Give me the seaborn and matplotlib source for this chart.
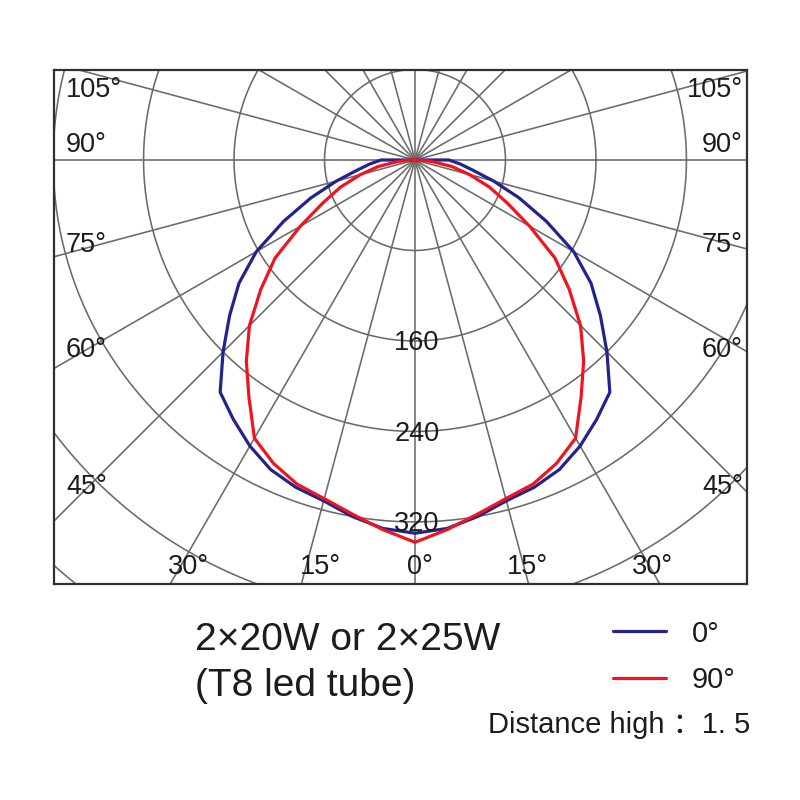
import numpy as np
import pandas as pd
import matplotlib
matplotlib.use("Agg")
import matplotlib.pyplot as plt
import seaborn as sns

# luminous intensity (cd), degrees from nadir
angles = [0, 5, 10, 15, 20, 25, 30, 35, 40, 45, 50, 55, 60, 65, 70, 75, 80, 85, 90]
c0_values = [330, 327, 320, 312, 308, 302, 292, 280, 268, 240, 214, 190, 162, 128, 98, 72, 52, 40, 30]
c90_values = [338, 328, 318, 310, 305, 296, 284, 256, 232, 207, 178, 151, 117, 90, 70, 50, 33, 15, 4]
plane_labels = ["0°", "90°"]
plane_colors = ["#23238f", "#f0141e"]

ring_values = [80, 160, 240, 320, 400, 480, 560]
ring_labels = [160, 240, 320]
spoke_angles = list(range(0, 180, 15))

left_labels = ["105°", "90°", "75°", "60°", "45°"]
bottom_labels = ["30°", "15°", "0°", "15°", "30°"]

title_lines = ["2×20W or 2×25W", "(T8 led tube)"]
distance_text = "Distance high ：1. 5"

sns.set_style("white")
plt.rcParams["font.family"] = ["Liberation Sans", "Noto Sans CJK SC", "DejaVu Sans"]

SCALE = 1.131  # px per cd
CX, CY = 415, 160  # pole in pixels


def px(x, y):
    return (x - CX) / SCALE, (CY - y) / SCALE


# build the curve table (mirror each half so the curve is closed at the pole)
rows = []
for label, vals in zip(plane_labels, [c0_values, c90_values]):
    th = [-a for a in angles[::-1]] + angles[1:]
    rr = vals[::-1] + vals[1:]
    th = [-95] + th + [95]
    rr = [0] + rr + [0]
    for i, (t, r) in enumerate(zip(th, rr)):
        t = np.radians(t)
        rows.append({"plane": label, "order": i, "x": r * np.sin(t), "y": -r * np.cos(t)})
df = pd.DataFrame(rows)

fig = plt.figure(figsize=(8, 8), dpi=100)
ax = fig.add_axes([54 / 800, 1 - 584 / 800, 693 / 800, 514 / 800])
x0, y1 = px(54, 70)
x1, y0 = px(747, 584)
ax.set_xlim(x0, x1)
ax.set_ylim(y0, y1)

grid_kw = dict(color="#6a6a6a", lw=1.15, zorder=1)
t = np.linspace(0, 2 * np.pi, 400)
for r in ring_values:
    ax.plot(r * np.cos(t), r * np.sin(t), **grid_kw)
for a in spoke_angles:
    a = np.radians(a)
    ax.plot([-800 * np.sin(a), 800 * np.sin(a)], [-800 * np.cos(a), 800 * np.cos(a)], **grid_kw)

sns.lineplot(data=df, x="x", y="y", hue="plane", palette=plane_colors, sort=False,
             estimator=None, units="plane", lw=2.3, ax=ax, zorder=3, legend=False)

ax.set_xticks([])
ax.set_yticks([])
ax.set_xlabel("")
ax.set_ylabel("")
for s in ax.spines.values():
    s.set_color("#303030")
    s.set_linewidth(1.6)

tc = "#1c1c1c"
fs = 19.5
for r in ring_labels:
    ax.text(2 / SCALE, -r * 1.0 - 2, str(r), ha="center", va="center", fontsize=fs, color=tc, zorder=4)

side_y = [90, 145, 245, 350, 487]
for lab, yy in zip(left_labels, side_y):
    ax.text(*px(66, yy), lab, ha="left", va="center", fontsize=fs, color=tc)
    ax.text(*px(743, yy), lab, ha="right", va="center", fontsize=fs, color=tc)
bottom_x = [188, 320, 420, 527, 652]
for lab, xx in zip(bottom_labels, bottom_x):
    ax.text(*px(xx, 567), lab, ha="center", va="center", fontsize=fs, color=tc)

fig.text(195 / 800, 1 - 640 / 800, title_lines[0], ha="left", va="center", fontsize=28, color=tc)
fig.text(195 / 800, 1 - 686 / 800, title_lines[1], ha="left", va="center", fontsize=28, color=tc)
fig.text(750 / 800, 1 - 725 / 800, distance_text, ha="right", va="center", fontsize=21, color=tc)

handles = [plt.Line2D([], [], color=c, lw=2.3) for c in plane_colors]
fig.legend(handles, plane_labels, loc="center left", bbox_to_anchor=(613 / 800, 1 - 657 / 800),
           frameon=False, fontsize=21, handlelength=1.8, handletextpad=0.9,
           labelspacing=0.65, borderpad=0, borderaxespad=0, labelcolor=tc)

fig.savefig("out.png", dpi=100)
